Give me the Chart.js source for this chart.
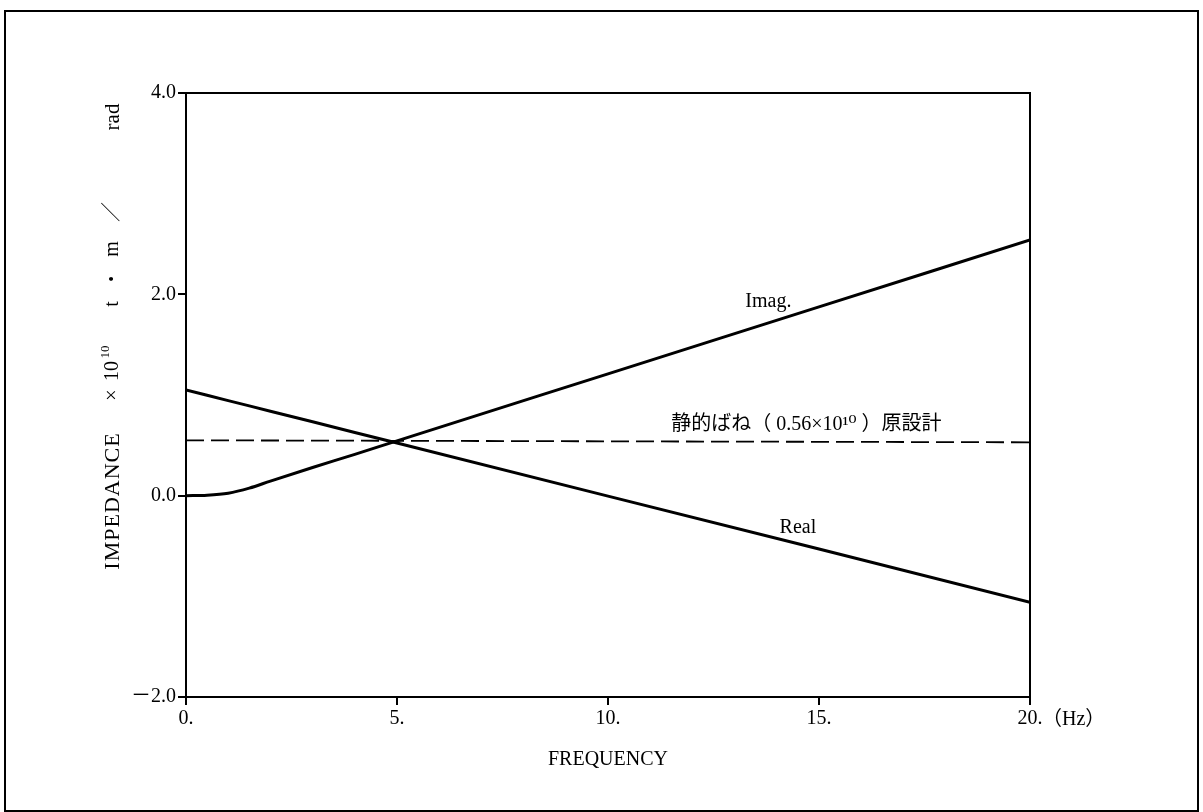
<!DOCTYPE html>
<html>
<head>
<meta charset="utf-8">
<script src="https://cdn.jsdelivr.net/npm/chart.js@4"></script>
<style>
  html, body { margin: 0; padding: 0; background: #fff; }
  #wrap { width: 1203px; height: 812px; }
</style>
</head>
<body>
<div id="wrap"><canvas id="myChart" width="1203" height="812"></canvas></div>
<script>
// frequency (Hz)
const freq = [0, 0.5, 1, 1.5, 2, 3, 4, 5, 10, 15, 20];
// impedance x 10^10 t·m/rad
const imagValues = [0, 0.005, 0.025, 0.075, 0.145, 0.28, 0.41, 0.545, 1.21, 1.875, 2.54];
const realValues = [1.05, 0.997, 0.944, 0.892, 0.839, 0.734, 0.628, 0.523, -0.005, -0.53, -1.06];
const staticFreq = [0, 20];
const staticValues = [0.55, 0.53];

const xTicks = [0, 5, 10, 15, 20];
const xTickLabels = ["0.", "5.", "10.", "15.", "20."];
const yTicks = [-2, 0, 2, 4];
const yTickLabels = ["\uFF0D2.0", "0.0", "2.0", "4.0"];

const serif = '"Liberation Serif", "DejaVu Serif", "Noto Sans CJK JP", serif';

function pts(xs, ys) {
  return xs.map((x, i) => ({ x: x, y: ys[i] }));
}

// pieces of the rotated y title: text, centre (y on page), font size, offset
const yTitleParts = [
  ["IMPEDANCE", 501, 22],
  ["×", 395, 20],
  ["10", 371, 20],
  ["10", 352, 13, -7],
  ["t", 304, 20],
  ["•", 279, 16],
  ["m", 249, 20],
  ["／", 212, 20],
  ["rad", 117, 21]
];

const decor = {
  id: "decor",
  afterDraw(chart) {
    const ctx = chart.ctx;
    const a = chart.chartArea;
    const xs = chart.scales.x;
    const ys = chart.scales.y;
    ctx.save();
    // outer frame
    ctx.strokeStyle = "#000";
    ctx.lineWidth = 2;
    ctx.strokeRect(5, 11, 1193, 800);
    // plot box
    ctx.strokeRect(a.left, a.top, a.right - a.left, a.bottom - a.top);

    ctx.fillStyle = "#000";
    ctx.font = "20px " + serif;
    ctx.textBaseline = "middle";
    // unit after last tick
    ctx.textAlign = "left";
    ctx.fillText("（Hz）", xs.getPixelForValue(20) + 12, a.bottom + 23);

    // curve labels
    ctx.textAlign = "center";
    ctx.fillText("Imag.", xs.getPixelForValue(13.8), ys.getPixelForValue(1.93));
    ctx.fillText("Real", xs.getPixelForValue(14.5), ys.getPixelForValue(-0.32));
    ctx.fillText("静的ばね（ 0.56×10¹⁰ ）原設計", xs.getPixelForValue(14.7), ys.getPixelForValue(0.70));

    // y title, drawn piece by piece, rotated
    ctx.translate(113, 0);
    ctx.rotate(-Math.PI / 2);
    yTitleParts.forEach((p) => {
      ctx.font = p[2] + "px " + serif;
      ctx.letterSpacing = p[0] === "IMPEDANCE" ? "1px" : "0px";
      ctx.fillText(p[0], -p[1], p[3] || 0);
    });
    ctx.restore();
  }
};

new Chart(document.getElementById("myChart").getContext("2d"), {
  type: "line",
  data: {
    datasets: [
      {
        label: "Imag.",
        data: pts(freq, imagValues),
        borderColor: "#000",
        borderWidth: 3,
        pointRadius: 0,
        cubicInterpolationMode: "monotone",
        fill: false
      },
      {
        label: "Real",
        data: pts(freq, realValues),
        borderColor: "#000",
        borderWidth: 3,
        pointRadius: 0,
        tension: 0,
        fill: false
      },
      {
        label: "静的ばね",
        data: pts(staticFreq, staticValues),
        borderColor: "#000",
        borderWidth: 1.8,
        borderDash: [18, 7],
        pointRadius: 0,
        tension: 0,
        fill: false
      }
    ]
  },
  options: {
    responsive: false,
    animation: false,
    events: [],
    layout: { padding: { left: 0, top: 93, right: 173, bottom: 0 } },
    plugins: {
      legend: { display: false },
      tooltip: { enabled: false }
    },
    scales: {
      x: {
        type: "linear",
        min: 0,
        max: 20,
        afterFit: (s) => { s.height = 115; },
        afterBuildTicks: (s) => { s.ticks = xTicks.map((v) => ({ value: v })); },
        ticks: {
          color: "#000",
          font: { family: serif, size: 20 },
          padding: 2,
          maxRotation: 0,
          callback: (v) => xTickLabels[xTicks.indexOf(v)]
        },
        grid: { drawOnChartArea: false, color: "#000", lineWidth: 2, tickLength: 8 },
        border: { color: "#000", width: 2 },
        title: {
          display: true,
          text: "FREQUENCY",
          color: "#000",
          font: { family: serif, size: 20 },
          padding: { top: 4, bottom: 40 }
        }
      },
      y: {
        type: "linear",
        min: -2,
        max: 4,
        afterFit: (s) => { s.width = 186; },
        afterBuildTicks: (s) => { s.ticks = yTicks.map((v) => ({ value: v })); },
        ticks: {
          color: "#000",
          font: { family: serif, size: 20 },
          padding: 2,
          callback: (v) => yTickLabels[yTicks.indexOf(v)]
        },
        grid: { drawOnChartArea: false, color: "#000", lineWidth: 2, tickLength: 8 },
        border: { color: "#000", width: 2 }
      }
    }
  },
  plugins: [decor]
});
</script>
</body>
</html>
